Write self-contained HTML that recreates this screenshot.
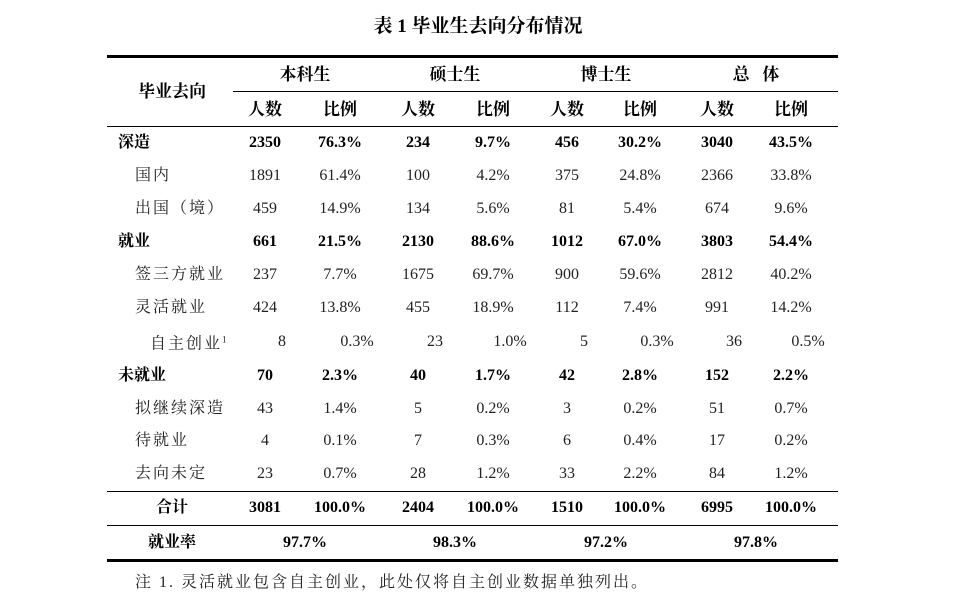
<!DOCTYPE html>
<html><head><meta charset="utf-8"><style>
body{margin:0;width:957px;height:598px;background:#fff;position:relative;overflow:hidden;font-family:"Liberation Serif","Noto Serif CJK SC",serif;color:#000;}
.t{position:absolute;font-size:16px;line-height:18px;white-space:nowrap;transform:translate(-50%,-50%);}
.l{position:absolute;font-size:16px;line-height:18px;white-space:nowrap;transform:translateY(-50%);}
.b{font-weight:bold;}
.h{font-size:17px;}
.r{color:#222;}
.hl{position:absolute;background:#000;}
sup{font-size:9px;vertical-align:6px;}
</style></head><body>
<div class="t b" style="left:478px;top:27px;font-size:19px;">表 1 毕业生去向分布情况</div>
<div class="hl" style="left:107px;top:55px;width:731px;height:3px"></div>
<div class="hl" style="left:233px;top:91px;width:605px;height:1px"></div>
<div class="hl" style="left:107px;top:126px;width:731px;height:1px"></div>
<div class="hl" style="left:107px;top:491px;width:731px;height:1px"></div>
<div class="hl" style="left:107px;top:525px;width:731px;height:1px"></div>
<div class="hl" style="left:107px;top:559px;width:731px;height:3px"></div>
<div class="t b h" style="left:172px;top:92px">毕业去向</div>
<div class="t b h" style="left:305px;top:75px">本科生</div>
<div class="t b h" style="left:455px;top:75px">硕士生</div>
<div class="t b h" style="left:606px;top:75px">博士生</div>
<div class="t b h" style="left:756px;top:75px">总&nbsp;&nbsp;&nbsp;体</div>
<div id="rows"></div>
<script>
var cx=[265,340,418,493,567,640,717,791];
var rows=[
[143,1,'深造',118,['2350','76.3%','234','9.7%','456','30.2%','3040','43.5%']],
[176,0,'国内',135,['1891','61.4%','100','4.2%','375','24.8%','2366','33.8%']],
[209,0,'出国（境）',135,['459','14.9%','134','5.6%','81','5.4%','674','9.6%']],
[242,1,'就业',118,['661','21.5%','2130','88.6%','1012','67.0%','3803','54.4%']],
[275,0,'签三方就业',135,['237','7.7%','1675','69.7%','900','59.6%','2812','40.2%']],
[308,0,'灵活就业',135,['424','13.8%','455','18.9%','112','7.4%','991','14.2%']],
[342,0,'自主创业<sup>1</sup>',150,['8','0.3%','23','1.0%','5','0.3%','36','0.5%'],17],
[376,1,'未就业',118,['70','2.3%','40','1.7%','42','2.8%','152','2.2%']],
[409,0,'拟继续深造',135,['43','1.4%','5','0.2%','3','0.2%','51','0.7%']],
[441,0,'待就业',135,['4','0.1%','7','0.3%','6','0.4%','17','0.2%']],
[474,0,'去向未定',135,['23','0.7%','28','1.2%','33','2.2%','84','1.2%']]
];
var h='';
for(var i=0;i<8;i++)h+='<div class="t b h" style="left:'+cx[i]+'px;top:110px">'+(i%2?'比例':'人数')+'</div>';
rows.forEach(function(r){
 var cls=r[1]?'b':'r';
 h+='<div class="l '+cls+'" style="left:'+r[3]+'px;top:'+r[0]+'px;'+(r[1]?'':'letter-spacing:2px')+'">'+r[2]+'</div>';
 var off=r[5]||0;
 r[4].forEach(function(v,i){h+='<div class="t '+cls+'" style="left:'+(cx[i]+off)+'px;top:'+r[0]+'px">'+v+'</div>';});
});
var tot=['3081','100.0%','2404','100.0%','1510','100.0%','6995','100.0%'];
h+='<div class="t b" style="left:172px;top:508px">合计</div>';
tot.forEach(function(v,i){h+='<div class="t b" style="left:'+cx[i]+'px;top:508px">'+v+'</div>';});
h+='<div class="t b" style="left:172px;top:543px">就业率</div>';
['97.7%','98.3%','97.2%','97.8%'].forEach(function(v,i){h+='<div class="t b" style="left:'+[305,455,606,756][i]+'px;top:543px">'+v+'</div>';});
h+='<div class="l r" style="left:135px;top:583px;letter-spacing:2px">注 1. 灵活就业包含自主创业，此处仅将自主创业数据单独列出。</div>';
document.getElementById('rows').innerHTML=h;
</script>
</body></html>
